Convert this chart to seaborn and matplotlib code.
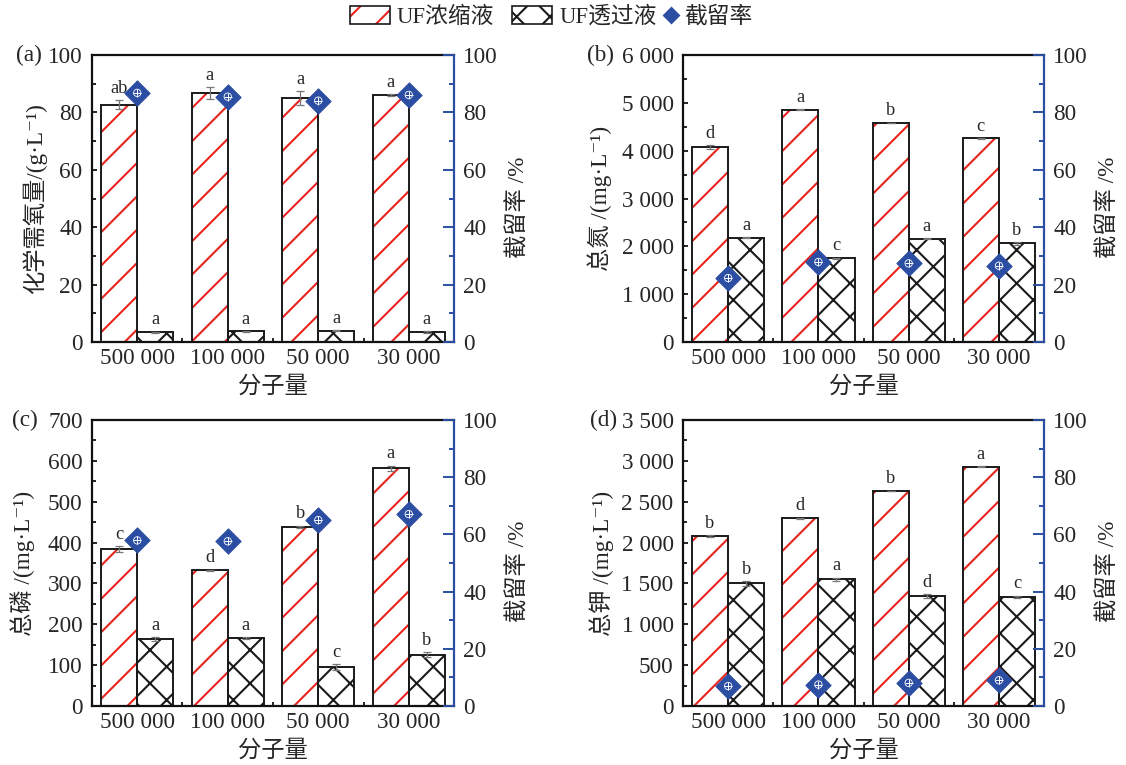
import numpy as np
import pandas as pd
import seaborn as sns
import matplotlib.pyplot as plt
from matplotlib.patches import Patch, Rectangle
from matplotlib.lines import Line2D
from matplotlib.ticker import AutoMinorLocator, FixedLocator, FuncFormatter, MultipleLocator

# molecular weight cut-offs
mw_labels = ["500 000", "100 000", "50 000", "30 000"]
series_names = ["UF浓缩液", "UF透过液"]

# (a) COD
cod_conc = [82.7, 86.8, 85.0, 86.0]
cod_conc_err = [1.5, 2.0, 2.5, 0.4]
cod_perm = [3.4, 3.7, 3.9, 3.5]
cod_perm_err = [0.2, 0.2, 0.2, 0.2]
cod_ret = [86.8, 85.5, 84.1, 86.1]
cod_conc_sig = ["ab", "a", "a", "a"]
cod_perm_sig = ["a", "a", "a", "a"]

# (b) total nitrogen
tn_conc = [4080, 4860, 4580, 4260]
tn_conc_err = [35, 8, 8, 8]
tn_perm = [2180, 1750, 2160, 2060]
tn_perm_err = [12, 12, 8, 25]
tn_ret = [22.3, 27.9, 27.4, 26.6]
tn_conc_sig = ["d", "a", "b", "c"]
tn_perm_sig = ["a", "c", "a", "b"]

# (c) total phosphorus
tp_conc = [384, 332, 438, 582]
tp_conc_err = [8, 2, 3, 6]
tp_perm = [163, 166, 95, 126]
tp_perm_err = [5, 3, 7, 6]
tp_ret = [57.9, 57.6, 65.0, 67.1]
tp_conc_sig = ["c", "d", "b", "a"]
tp_perm_sig = ["a", "a", "c", "b"]

# (d) total potassium
tk_conc = [2075, 2295, 2630, 2930]
tk_conc_err = [12, 8, 5, 5]
tk_perm = [1500, 1550, 1345, 1335]
tk_perm_err = [30, 22, 20, 15]
tk_ret = [7.0, 7.5, 8.1, 9.0]
tk_conc_sig = ["b", "d", "b", "a"]
tk_perm_sig = ["b", "a", "d", "c"]

sns.set_style("ticks")
plt.rcParams["font.family"] = ["Liberation Serif", "Noto Sans CJK SC", "DejaVu Serif"]
plt.rcParams["hatch.linewidth"] = 0.75
plt.rcParams["axes.unicode_minus"] = False

BLUE = "#2B4EA2"
RED = "#E8231D"
FS = 8.4

fig = plt.figure(figsize=(5.63, 3.825), dpi=200)

panels = [
    dict(tag="(a)", rect=[0.0817, 0.5529, 0.3215, 0.3752], ylim=(0, 100), step=20,
         ylabel="化学需氧量/(g·L⁻¹)", conc=cod_conc, conc_err=cod_conc_err, perm=cod_perm,
         perm_err=cod_perm_err, ret=cod_ret, conc_sig=cod_conc_sig, perm_sig=cod_perm_sig,
         ylab_x=-0.124, tag_x=-0.21),
    dict(tag="(b)", rect=[0.6066, 0.5529, 0.3206, 0.3752], ylim=(0, 6000), step=1000,
         ylabel="总氮 /(mg·L⁻¹)", conc=tn_conc, conc_err=tn_conc_err, perm=tn_perm,
         perm_err=tn_perm_err, ret=tn_ret, conc_sig=tn_conc_sig, perm_sig=tn_perm_sig,
         ylab_x=-0.197, tag_x=-0.265),
    dict(tag="(c)", rect=[0.0817, 0.0771, 0.3215, 0.3739], ylim=(0, 700), step=100,
         ylabel="总磷 /(mg·L⁻¹)", conc=tp_conc, conc_err=tp_conc_err, perm=tp_perm,
         perm_err=tp_perm_err, ret=tp_ret, conc_sig=tp_conc_sig, perm_sig=tp_perm_sig,
         ylab_x=-0.157, tag_x=-0.22),
    dict(tag="(d)", rect=[0.6066, 0.0771, 0.3206, 0.3739], ylim=(0, 3500), step=500,
         ylabel="总钾 /(mg·L⁻¹)", conc=tk_conc, conc_err=tk_conc_err, perm=tk_perm,
         perm_err=tk_perm_err, ret=tk_ret, conc_sig=tk_conc_sig, perm_sig=tk_perm_sig,
         ylab_x=-0.19, tag_x=-0.258),
]

thousands = FuncFormatter(lambda v, pos: f"{v:,.0f}".replace(",", " "))

for p in panels:
    ax = fig.add_axes(p["rect"])
    df = pd.DataFrame({
        "mw": mw_labels * 2,
        "value": list(p["conc"]) + list(p["perm"]),
        "type": [series_names[0]] * 4 + [series_names[1]] * 4,
    })
    sns.barplot(data=df, x="mw", y="value", hue="type", hue_order=series_names,
                order=mw_labels, width=0.8, gap=0, errorbar=None, legend=False, ax=ax)

    conc_bars, perm_bars = ax.containers[0], ax.containers[1]
    for bar in conc_bars:
        bar.set_facecolor("white")
        bar.set_edgecolor(RED)
        bar.set_linewidth(0)
        bar.set_hatch("//")
        ax.add_patch(Rectangle(bar.get_xy(), bar.get_width(), bar.get_height(),
                               fill=False, edgecolor="#1a1a1a", lw=0.7, zorder=bar.get_zorder() + 0.1))
    for bar in perm_bars:
        bar.set_facecolor("white")
        bar.set_edgecolor("#1a1a1a")
        bar.set_linewidth(0.7)
        bar.set_hatch("xx")

    for bars, vals, errs, sigs in [(conc_bars, p["conc"], p["conc_err"], p["conc_sig"]),
                                   (perm_bars, p["perm"], p["perm_err"], p["perm_sig"])]:
        xs = [b.get_x() + b.get_width() / 2 for b in bars]
        ax.errorbar(xs, vals, yerr=errs, fmt="none", ecolor="#777777", elinewidth=0.45,
                    capsize=1.6, capthick=0.45, zorder=5)
        for x, v, e, s in zip(xs, vals, errs, sigs):
            ax.annotate(s, (x, v + e), xytext=(0, 1.2), textcoords="offset points",
                        ha="center", va="bottom", fontsize=6.6)

    ax.set_xlim(-0.5, 3.5)
    ax.set_ylim(*p["ylim"])
    ax.yaxis.set_major_locator(MultipleLocator(p["step"]))
    ax.yaxis.set_minor_locator(AutoMinorLocator(2))
    ax.yaxis.set_major_formatter(thousands)
    ax.xaxis.set_minor_locator(FixedLocator([0.5, 1.5, 2.5]))
    ax.tick_params(axis="x", which="major", length=0, pad=2.3, labelsize=FS)
    ax.tick_params(axis="x", which="minor", direction="in", length=1.6, width=0.7)
    ax.tick_params(axis="y", which="both", direction="in", width=0.7, labelsize=FS, pad=3.4)
    ax.tick_params(axis="y", which="major", length=1.8)
    ax.tick_params(axis="y", which="minor", length=1.6)
    for s in ["left", "bottom", "top"]:
        ax.spines[s].set_linewidth(0.8)
        ax.spines[s].set_color("#111111")
    ax.spines["right"].set_visible(False)
    ax.set_xlabel("分子量", fontsize=FS)
    ax.xaxis.set_label_coords(0.5, -0.12)
    ax.xaxis.label.set_va("top")
    ax.set_ylabel(p["ylabel"], fontsize=FS)
    ax.yaxis.set_label_coords(p["ylab_x"], 0.5)
    ax.text(p["tag_x"], 1.0, p["tag"], transform=ax.transAxes, fontsize=FS, ha="left", va="center")

    ax2 = ax.twinx()
    xpos = np.arange(len(mw_labels))
    sns.scatterplot(x=xpos, y=p["ret"], marker="D", s=42, color=BLUE,
                    edgecolor=BLUE, linewidth=0.3, ax=ax2, zorder=6)
    ax2.scatter(xpos, p["ret"], marker="+", s=7, color="white", linewidths=0.35, zorder=7)
    ax2.scatter(xpos, p["ret"], marker="o", s=7, facecolor="none",
                edgecolor="white", linewidths=0.3, zorder=7)
    ax2.set_ylim(0, 100)
    ax2.yaxis.set_major_locator(MultipleLocator(20))
    ax2.yaxis.set_minor_locator(MultipleLocator(10))
    ax2.tick_params(axis="y", which="both", direction="in", width=0.7, color=BLUE, labelsize=FS, pad=3.4)
    ax2.tick_params(axis="y", which="major", length=4.0)
    ax2.tick_params(axis="y", which="minor", length=1.8)
    for s in ["left", "bottom", "top"]:
        ax2.spines[s].set_visible(False)
    ax2.spines["right"].set_color(BLUE)
    ax2.spines["right"].set_linewidth(0.8)
    ax2.set_ylabel("截留率 /%", fontsize=FS)
    ax2.yaxis.set_label_coords(1.146, 0.47)

# shared legend (bars), then the retention marker with a short handle
conc_h = (Patch(facecolor="white", edgecolor=RED, hatch="//", lw=0),
          Patch(facecolor="none", edgecolor="#1a1a1a", lw=0.6))
perm_h = Patch(facecolor="white", edgecolor="#1a1a1a", hatch="xx", lw=0.6)
ret_h = Line2D([], [], marker="D", ls="none", color=BLUE, ms=3.4)
fig.legend([conc_h, perm_h], series_names,
           loc="center", bbox_to_anchor=(0.447, 0.978), ncol=2, frameon=False, fontsize=8.2,
           handlelength=1.75, handleheight=0.85, handletextpad=0.3, columnspacing=0.8,
           borderpad=0, borderaxespad=0)
fig.legend([ret_h], ["截留率"],
           loc="center", bbox_to_anchor=(0.629, 0.978), frameon=False, fontsize=8.2,
           handlelength=0.6, handletextpad=0.3, borderpad=0, borderaxespad=0)

fig.savefig("out.png", dpi=200)
